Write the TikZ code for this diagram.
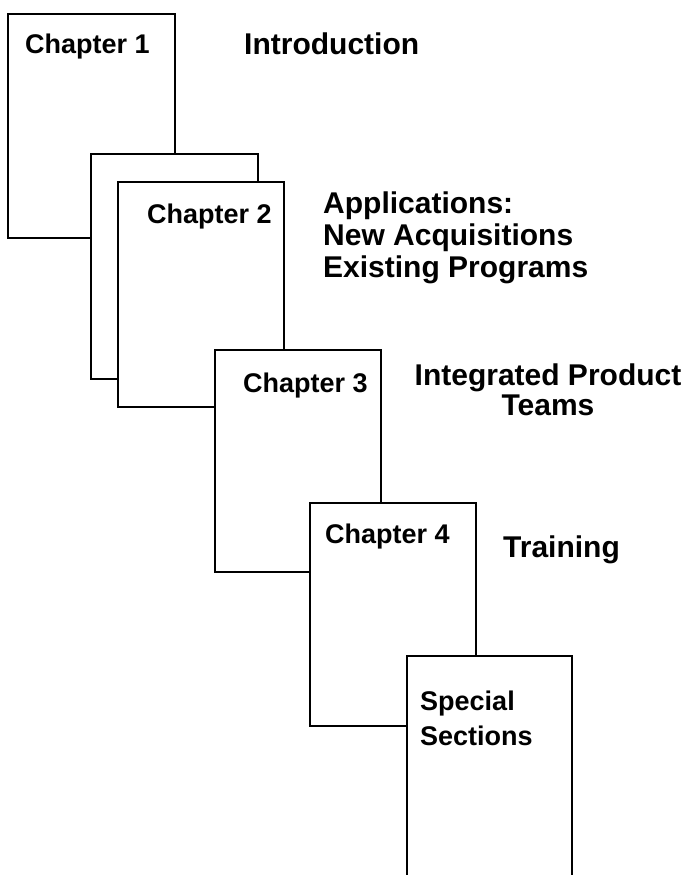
\documentclass[tikz,border=0pt]{standalone}
\usepackage{fontspec}
\setmainfont{Liberation Sans}
\begin{document}
\begin{tikzpicture}[x=1pt,y=-1pt,
  page/.style={draw=black,fill=white,line width=1.7pt,inner sep=0pt,outer sep=0pt,anchor=north west},
  openpage/.style={fill=white,inner sep=0pt,outer sep=0pt,anchor=north west},
  chap/.style={inner sep=0pt,anchor=base west,font=\fontsize{27}{33}\selectfont\bfseries},
  topic/.style={inner sep=0pt,anchor=base west,font=\fontsize{30}{32}\selectfont\bfseries},
  topicc/.style={inner sep=0pt,anchor=base,font=\fontsize{30}{32}\selectfont\bfseries}]
\useasboundingbox (0,0) rectangle (693,875);
% pages, back to front
\node[page,minimum width=167pt,minimum height=224pt] (p1) at (8,14) {};
\node[page,minimum width=167pt,minimum height=225pt] (p2a) at (91,154) {};
\node[page,minimum width=166pt,minimum height=225pt] (p2) at (118,182) {};
\node[page,minimum width=166pt,minimum height=222pt] (p3) at (215,350) {};
\node[page,minimum width=166pt,minimum height=223pt] (p4) at (310,503) {};
\node[openpage,minimum width=165pt,minimum height=225pt] (p5) at (407,656) {};
\draw[line width=1.7pt] (p5.south west) -- (p5.north west) -- (p5.north east) -- (p5.south east);
% chapter labels
\node[chap] (c1) at (25,53) {Chapter 1};
\node[chap] (c2) at (147,223) {Chapter 2};
\node[chap] (c3) at (243,392) {Chapter 3};
\node[chap] (c4) at (325,543) {Chapter 4};
\node[chap] (s1) at (420,710) {Special};
\node[chap] (s2) at (420,745) {Sections};
% topics
\node[topic] (t1) at (244,55) {Introduction};
\node[topic] (t2a) at (323,213) {Applications:};
\node[topic] (t2b) at (323,245) {New Acquisitions};
\node[topic] (t2c) at (323,277) {Existing Programs};
\node[topicc] (t3a) at (548,385) {Integrated Product};
\node[topicc] (t3b) at (548,415) {Teams};
\node[topic] (t4) at (503,557) {Training};
\end{tikzpicture}
\end{document}
